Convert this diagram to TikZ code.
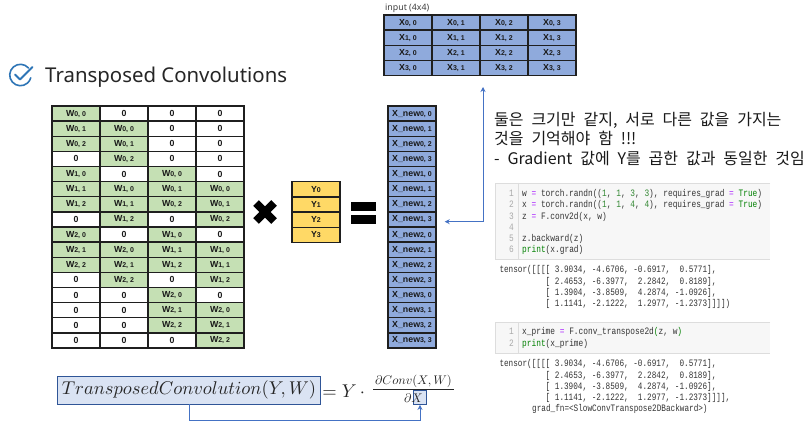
\documentclass[tikz,border=0pt]{standalone}
\usepackage{fontspec}
\setmainfont{Noto Sans}
\newfontfamily\krfont[WordSpace=2.2]{Noto Sans CJK KR}
\newfontfamily\codefont[FakeStretch=0.8]{Liberation Mono}
\newfontfamily\outfont[FakeStretch=0.785]{Liberation Mono}
\newfontfamily\cellfont{Liberation Sans}
\usetikzlibrary{arrows.meta}
\definecolor{cellgreen}{HTML}{C5E0B4}
\definecolor{cellyellow}{HTML}{FFD966}
\definecolor{cellblue}{HTML}{8FAADC}
\definecolor{cellline}{HTML}{1F1F1F}
\definecolor{hlfill}{HTML}{DAE3F3}
\definecolor{hlline}{HTML}{2F5597}
\definecolor{linkblue}{HTML}{4472C4}
\definecolor{checkblue}{HTML}{2E75B6}
\definecolor{codebg}{HTML}{F7F7F7}
\definecolor{codeline}{HTML}{DDDDDD}
\definecolor{lnum}{HTML}{AAAAAA}
\definecolor{kw}{HTML}{008000}
\definecolor{op}{HTML}{AA22FF}
\definecolor{txt}{HTML}{333333}
\definecolor{numc}{HTML}{338833}
\newcommand{\smalld}[1]{{\fontsize{7}{8}\selectfont #1}}
\newcommand{\wlabel}[2]{W\smalld{#1, #2}}
\tikzset{
  cellbase/.style={draw=cellline,line width=1.4pt,inner sep=0pt,font=\cellfont\bfseries\fontsize{8.8}{10}\selectfont,text=black!90},
  zerocell/.style={cellbase,fill=white,minimum width=48pt,minimum height=15.12pt},
  wcell/.style={cellbase,fill=cellgreen,minimum width=48pt,minimum height=15.12pt},
  ycell/.style={cellbase,fill=cellyellow,minimum width=48pt,minimum height=15.2pt},
  newcell/.style={cellbase,fill=cellblue,minimum width=48pt,minimum height=15.12pt},
  inpcell/.style={cellbase,fill=cellblue,minimum width=48pt,minimum height=15.1pt},
  link/.style={draw=linkblue,line width=0.8pt,-{Stealth[length=5pt,width=5pt]}},
  highlight/.style={draw=hlline,fill=hlfill,line width=0.9pt,inner sep=0pt},
  codetext/.style={anchor=base west,inner sep=0pt,font=\codefont\fontsize{9.8}{11}\selectfont,text=txt},
  outtext/.style={anchor=base west,inner sep=0pt,font=\outfont\fontsize{9.8}{11}\selectfont,text=txt},
  numtext/.style={anchor=base east,inner sep=0pt,font=\codefont\fontsize{9.8}{11}\selectfont,text=lnum},
  note/.style={anchor=base west,inner sep=0pt,font=\krfont\fontsize{16}{18}\selectfont,text=black!90},
  mathtext/.style={text=black!85,inner sep=0pt}
}
\newcommand{\op}{\textcolor{op}{=}}
\newcommand{\nm}[1]{\textcolor{numc}{#1}}
\newcommand{\kwd}[1]{\textcolor{kw}{#1}}
\begin{document}
\begin{tikzpicture}[x=1pt,y=-1pt]
\useasboundingbox[fill=white] (0,0) rectangle (806,427);

% check icon
\draw[checkblue,line width=1.6pt,line cap=round] (28.5,68) arc[start angle=-41,end angle=-345,radius=10.7];
\draw[checkblue,line width=1.9pt,line cap=round,line join=round] (15,74.5) -- (20,79.5) -- (32.5,67);
\node[anchor=base west,inner sep=0pt,font=\fontsize{20.4}{22}\selectfont,text=black!85] (title) at (45,83) {Transposed Convolutions};

% W matrix
\def\zz{-}
\foreach \rr [count=\ri from 0] in {{00,-,-,-},{01,00,-,-},{02,01,-,-},{-,02,-,-},{10,-,00,-},{11,10,01,00},{12,11,02,01},{-,12,-,02},{20,-,10,-},{21,20,11,10},{22,21,12,11},{-,22,-,12},{-,-,20,-},{-,-,21,20},{-,-,22,21},{-,-,-,22}}{
  \foreach \v [count=\ci from 0] in \rr {
    \ifx\v\zz
      \node[zerocell] (m-\ri-\ci) at ({76+48*\ci},{113.6+15.12*\ri}) {0};
    \else
      \node[wcell] (m-\ri-\ci) at ({76+48*\ci},{113.6+15.12*\ri}) {\expandafter\wlabel\v};
    \fi
  }
}

% cross
\draw[black,line width=8pt] (256,203) -- (274,221) (256,221) -- (274,203);

% Y vector
\foreach \i in {0,...,3}{
  \node[ycell] (y-\i) at (316,{189.4+15.2*\i}) {Y\smalld{\i}};
}

% equals
\fill[black] (351,202.5) rectangle (375.7,211.3);
\fill[black] (351,215.5) rectangle (375.7,224.5);

% X_new vector
\foreach \a in {0,...,3}{
  \foreach \b in {0,...,3}{
    \pgfmathtruncatemacro{\k}{4*\a+\b}
    \node[newcell] (new-\k) at (412,{113.6+15.12*\k}) {X\_new\smalld{\a, \b}};
  }
}

% input grid
\node[anchor=base west,inner sep=0pt,font=\fontsize{8.8}{10}\selectfont,text=black!75] (inlabel) at (385,10.5) {input (4x4)};
\foreach \a in {0,...,3}{
  \foreach \b in {0,...,3}{
    \node[inpcell] (in-\a-\b) at ({408+48*\b},{22.6+15.1*\a}) {X\smalld{\a, \b}};
  }
}

% arrows between input and X_new
\coordinate (bend) at (483,221.7);
\coordinate (intip) at (483,87);
\draw[link] (bend) -- (intip);
\draw[link,shorten >=8pt] (bend) -- (bend -| new-7.east);

% note
\node[note] (n1) at (494,125.5) {둘은 크기만 같지, 서로 다른 값을 가지는};
\node[note] (n2) at (494,145) {것을 기억해야 함 !!!};
\node[note] (n3) at (494,164.5) {- Gradient 값에 Y를 곱한 값과 동일한 것임};

% code box 1
\fill[codebg] (495.5,183) rectangle (770,259);
\draw[codeline,line width=0.8pt] (770,183) -- (495.5,183) -- (495.5,259) -- (770,259);
\draw[codeline,line width=0.6pt] (518.5,183) -- (518.5,259);
\foreach \n/\yy in {1/196.5,2/207.8,3/219.1,4/230.4,5/241.7,6/253}{
  \node[numtext] (ln1-\n) at (514,\yy) {\n};
}
\node[codetext] (c1) at (522,196.5) {w \op{} torch.randn((\nm{1}, \nm{1}, \nm{3}, \nm{3}), requires\_grad \op{} \kwd{True})};
\node[codetext] (c2) at (522,207.8) {x \op{} torch.randn((\nm{1}, \nm{1}, \nm{4}, \nm{4}), requires\_grad \op{} \kwd{True})};
\node[codetext] (c3) at (522,219.1) {z \op{} F.conv2d(x, w)};
\node[codetext] (c5) at (522,241.7) {z.backward(z)};
\node[codetext] (c6) at (522,253) {\kwd{print}(x.grad)};

% output 1
\node[outtext] (o1) at (499.3,273) {tensor([[[[ 3.9034, -4.6706, -0.6917,~~0.5771],};
\node[outtext] (o2) at (499.3,284.2) {~~~~~~~~~~[ 2.4653, -6.3977,~~2.2842,~~0.8189],};
\node[outtext] (o3) at (499.3,295.4) {~~~~~~~~~~[ 1.3904, -3.8509,~~4.2874, -1.0926],};
\node[outtext] (o4) at (499.3,306.6) {~~~~~~~~~~[ 1.1141, -2.1222,~~1.2977, -1.2373]]]])};

% code box 2
\fill[codebg] (495.5,322.7) rectangle (770,353);
\draw[codeline,line width=0.8pt] (770,322.7) -- (495.5,322.7) -- (495.5,353) -- (770,353);
\draw[codeline,line width=0.6pt] (518.5,322.7) -- (518.5,353);
\node[numtext] (ln2-1) at (514,335) {1};
\node[numtext] (ln2-2) at (514,346.3) {2};
\node[codetext] (d1) at (522,335) {x\_prime \op{} F.conv\_transpose2d\kwd{(}z, w\kwd{)}};
\node[codetext] (d2) at (522,346.3) {\kwd{print}(x\_prime)};

% output 2
\node[outtext] (p1) at (499.3,367) {tensor([[[[ 3.9034, -4.6706, -0.6917,~~0.5771],};
\node[outtext] (p2) at (499.3,378.2) {~~~~~~~~~~[ 2.4653, -6.3977,~~2.2842,~~0.8189],};
\node[outtext] (p3) at (499.3,389.4) {~~~~~~~~~~[ 1.3904, -3.8509,~~4.2874, -1.0926],};
\node[outtext] (p4) at (499.3,400.6) {~~~~~~~~~~[ 1.1141, -2.1222,~~1.2977, -1.2373]]]],};
\node[outtext] (p5) at (532,411.8) {grad\_fn=<SlowConvTranspose2DBackward>)};

% formula
\node[highlight,minimum width=263pt,minimum height=28pt] (lhs) at (189,390) {};
\node[mathtext,scale=1.85] (lhstext) at (lhs.center) {$TransposedConvolution(Y,W)$};
\node[mathtext,scale=1.85,anchor=west] (eq) at (322,391) {$=Y\,\cdot$};
\node[highlight,minimum width=13.5pt,minimum height=14pt] (xb) at (420,397.5) {};
\node[mathtext,scale=1.25] (numer) at (413.5,381) {$\partial Conv(X,W)$};
\node[mathtext,scale=1.25] (denom) at (413.5,398) {$\partial X$};
\draw[black!85,line width=1pt] (373,390) -- (454,390);
\coordinate (corner) at (189,420.4);
\draw[link] (lhs.south) -- (corner) -| (xb.south);
\end{tikzpicture}
\end{document}
